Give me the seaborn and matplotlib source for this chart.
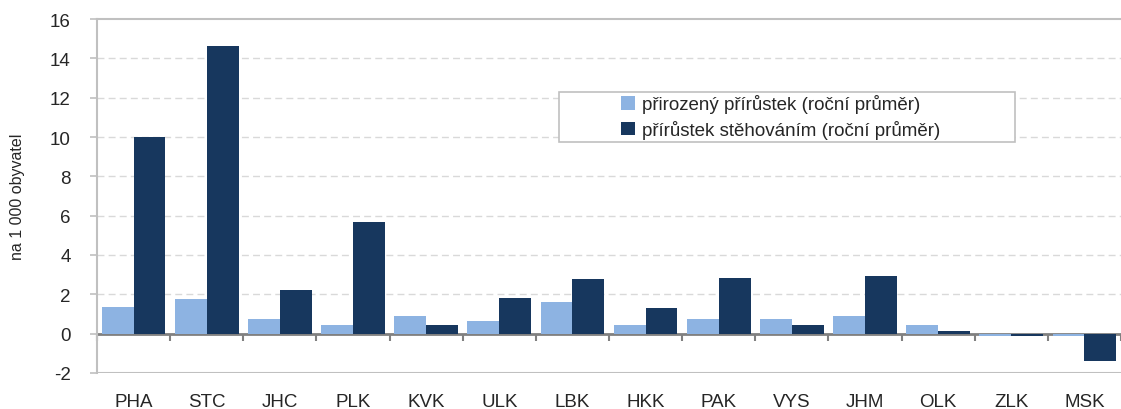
import pandas as pd
import matplotlib.pyplot as plt
from matplotlib.patches import Rectangle
import seaborn as sns

# Data (per 1 000 inhabitants)
regions = ['PHA', 'STC', 'JHC', 'PLK', 'KVK', 'ULK', 'LBK',
           'HKK', 'PAK', 'VYS', 'JHM', 'OLK', 'ZLK', 'MSK']
natural = [1.35, 1.75, 0.75, 0.45, 0.9, 0.65, 1.6,
           0.45, 0.75, 0.75, 0.9, 0.45, -0.1, -0.1]
migration = [10.0, 14.65, 2.2, 5.7, 0.45, 1.8, 2.8,
             1.3, 2.85, 0.45, 2.95, 0.15, -0.12, -1.4]
series_names = ['přirozený přírůstek (roční průměr)',
                'přírůstek stěhováním (roční průměr)']
yticks = list(range(-2, 17, 2))

df = pd.DataFrame({
    'kraj': regions * 2,
    'hodnota': natural + migration,
    'serie': [series_names[0]] * len(regions) + [series_names[1]] * len(regions),
})

sns.set_style('white')
plt.rcParams['font.family'] = ['Liberation Sans', 'DejaVu Sans']

fig = plt.figure(figsize=(11.21, 4.1), dpi=100)
ax = fig.add_axes([0.0865, 0.088, 0.9135, 0.863])

sns.barplot(data=df, x='kraj', y='hodnota', hue='serie', order=regions,
            hue_order=series_names, palette=['#8DB3E2', '#17375E'],
            width=0.87, saturation=1, linewidth=0, ax=ax, zorder=3)

ax.set_ylim(-2, 16)
ax.set_xlim(-0.5, len(regions) - 0.5)
ax.set_yticks(yticks)
ax.set_yticklabels([str(t) for t in yticks], fontsize=13.5)
for t in yticks:
    if 0 < t < 16:
        ax.axhline(t, color='#D9D9D9', lw=1, ls=(0, (5, 3)), zorder=1)
ax.axhline(-2, color='#C0C0C0', lw=1.5, zorder=1)

# category axis sits on the zero line
ax.spines['bottom'].set_position(('data', 0))
ax.spines['bottom'].set_color('#808080')
ax.spines['bottom'].set_linewidth(2)
ax.spines['bottom'].set_zorder(2)
ax.spines['right'].set_visible(False)
ax.spines['top'].set_color('#C0C0C0')
ax.spines['top'].set_linewidth(1.5)
ax.spines['left'].set_color('#C0C0C0')
ax.spines['left'].set_linewidth(1.5)

ax.set_xticks([i + 0.5 for i in range(-1, len(regions))], minor=True)
ax.tick_params(axis='x', which='minor', direction='out', length=5,
               width=1.5, color='#808080', bottom=True)
ax.tick_params(axis='x', which='major', length=0, pad=43, labelsize=13.5)
ax.tick_params(axis='y', direction='out', length=5, width=1.2,
               color='#C0C0C0', left=True, pad=14)

ax.set_xlabel('')
ax.set_ylabel('na 1 000 obyvatel', fontsize=11.5, labelpad=18)

# legend without its own frame, a wider box drawn around it
leg = ax.legend(loc='center left', bbox_to_anchor=(0.503, 0.724), fontsize=13.5,
                frameon=False, handlelength=0.75, handleheight=0.75,
                handletextpad=0.35, borderpad=0, labelspacing=0.35)
ax.add_patch(Rectangle((0.451, 0.653), 0.445, 0.141, transform=ax.transAxes,
                       facecolor='white', edgecolor='#C0C0C0', lw=1.2, zorder=5))
leg.set_zorder(6)

fig.savefig('out.png', dpi=100)
